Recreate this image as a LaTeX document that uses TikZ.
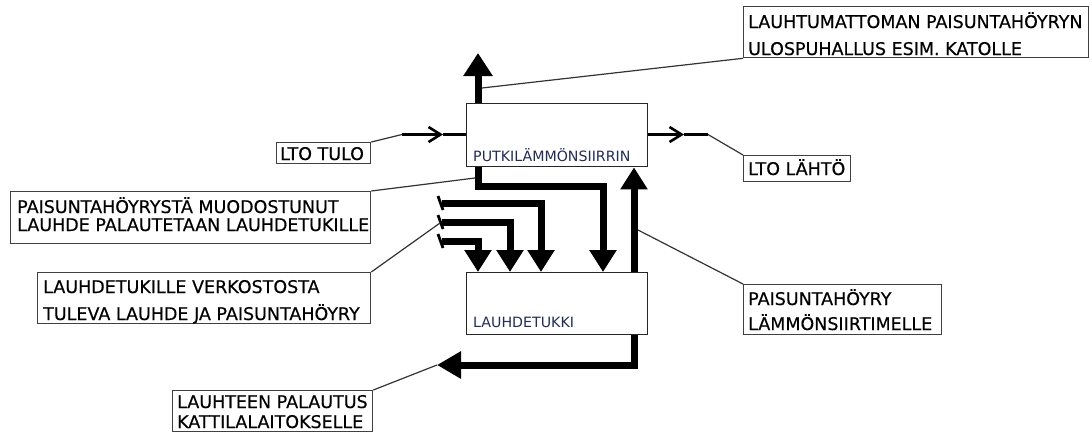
\documentclass[tikz,border=0pt]{standalone}
\usepackage{fontspec}
\setmainfont{DejaVu Sans}
\newfontfamily\lblfont{DejaVu Sans}[FakeBold=0.3]
\usetikzlibrary{arrows.meta}
\definecolor{txtblue}{RGB}{35,45,85}
\begin{document}
\begin{tikzpicture}[x=1pt,y=-1pt,
  mainbox/.style={draw=black!85, line width=1.4pt, minimum width=181pt, anchor=north west, inner sep=0pt},
  lblbox/.style={draw=black!75, line width=1.3pt, fill=white, anchor=north west, inner sep=0pt},
  txt/.style={anchor=base west, inner sep=0pt, text=black, font=\lblfont\fontsize{17.5}{20}\selectfont},
  small/.style={anchor=base west, inner sep=0pt, text=txtblue, font=\fontsize{14.2}{16}\selectfont},
  pipe/.style={line width=7pt, line join=miter},
  head/.style={-{Triangle[width=26pt,length=22pt]}},
  flow/.style={line width=3.5pt},
  barb/.style={-{Straight Barb[length=12pt,width=15pt,line width=2.6pt]}},
  leader/.style={line width=1.2pt, draw=black!80},
  tickmark/.style={line width=2.8pt}]

\useasboundingbox[fill=white] (0,0) rectangle (1090,432);

% main boxes
\node[mainbox, minimum height=63pt] (ptk) at (466,103) {};
\node[mainbox, minimum height=62pt] (ldt) at (466,272) {};
\node[small] (ptkt) at (473,161) {PUTKILÄMMÖNSIIRRIN};
\node[small] (ldtt) at (473,327) {LAUHDETUKKI};

% free ends
\coordinate (vent) at (478,53);
\coordinate (ret) at (437,365);
\coordinate (in1) at (442,203);
\coordinate (in2) at (442,222);
\coordinate (in3) at (442,241);
\coordinate (ltoin) at (402,134.5);
\coordinate (ltoinm) at (443,134.5);
\coordinate (ltoout) at (708,134.5);
\coordinate (ltooutm) at (684,134.5);

% thick pipes
\draw[pipe, -{Triangle[width=28pt,length=23pt]}] ([xshift=12pt]ptk.north west) -- (vent);
\draw[pipe, head] ([xshift=12pt]ptk.south west) -- ++(0,19) -| ([xshift=137pt]ldt.north west);
\draw[pipe, head] ([xshift=168pt]ldt.north west) -- ([xshift=168pt]ptk.south west);
\draw[pipe, -{Triangle[width=26pt,length=24pt]}] ([xshift=168pt]ldt.south west) |- (ret);
\draw[pipe, head] (in1) -| ([xshift=75pt]ldt.north west);
\draw[pipe, head] (in2) -| ([xshift=44pt]ldt.north west);
\draw[pipe, head] (in3) -| ([xshift=12pt]ldt.north west);
\draw[tickmark] ([shift={(-4,-7)}]in1) -- ([shift={(1,7)}]in1);
\draw[tickmark] ([shift={(-4,-7)}]in2) -- ([shift={(1,7)}]in2);
\draw[tickmark] ([shift={(-4,-7)}]in3) -- ([shift={(1,7)}]in3);

% LTO flow
\draw[flow, barb] (ltoin) -- (ltoinm);
\draw[flow] (ltoinm) -- (ptk.west |- ltoin);
\draw[flow, barb] (ptk.east |- ltoout) -- (ltooutm);
\draw[flow] (ltooutm) -- (ltoout);

% label boxes
\node[lblbox, minimum width=94pt, minimum height=21pt] (tulo) at (276,142) {};
\node[txt] at (280,160) {LTO TULO};

\node[lblbox, minimum width=360pt, minimum height=52pt] (paisu) at (10,191) {};
\node[txt] at (17,213) {PAISUNTAHÖYRYSTÄ MUODOSTUNUT};
\node[txt] at (17,231) {LAUHDE PALAUTETAAN LAUHDETUKILLE};

\node[lblbox, minimum width=333pt, minimum height=51pt] (verk) at (37,272) {};
\node[txt] at (43,293) {LAUHDETUKILLE VERKOSTOSTA};
\node[txt] at (43,320) {TULEVA LAUHDE JA PAISUNTAHÖYRY};

\node[lblbox, minimum width=345pt, minimum height=51pt] (ulos) at (743,6) {};
\node[txt] at (748,28) {LAUHTUMATTOMAN PAISUNTAHÖYRYN};
\node[txt] at (748,55) {ULOSPUHALLUS ESIM. KATOLLE};

\node[lblbox, minimum width=107pt, minimum height=26pt] (lahto) at (743,155) {};
\node[txt] at (748,175) {LTO LÄHTÖ};

\node[lblbox, minimum width=198pt, minimum height=50pt] (lammon) at (743,284) {};
\node[txt] at (748,305) {PAISUNTAHÖYRY};
\node[txt] at (748,330) {LÄMMÖNSIIRTIMELLE};

\node[lblbox, minimum width=200pt, minimum height=41pt] (palaut) at (172,390) {};
\node[txt] at (177,408) {LAUHTEEN PALAUTUS};
\node[txt] at (177,428) {KATTILALAITOKSELLE};

% leaders
\draw[leader] (tulo.north east) -- (ltoin);
\draw[leader] (paisu.north east) -- (475,178);
\draw[leader] (verk.north east) -- ([shift={(-2,1)}]in2);
\draw[leader] (ulos.south west) -- (482,88);
\draw[leader] (lahto.north west) -- (ltoout);
\draw[leader] (lammon.north west) -- (638,230);
\draw[leader] (palaut.north east) -- (ret);
\end{tikzpicture}
\end{document}
